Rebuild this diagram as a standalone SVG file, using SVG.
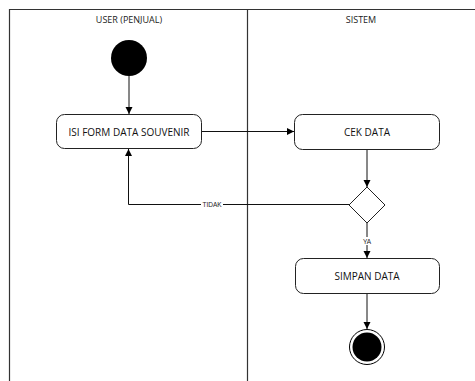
<svg xmlns="http://www.w3.org/2000/svg" width="475" height="381" viewBox="0 0 475 381">
<style>
.lane{stroke:#333;stroke-width:1.2;fill:none}
.hdr{font-family:"Open Sans","Liberation Sans",sans-serif;font-size:9px;fill:#222;text-anchor:middle}
.box{fill:#fff;stroke:#222;stroke-width:1}
.lbl{font-family:"Open Sans","Liberation Sans",sans-serif;font-size:10px;fill:#111;text-anchor:middle;dominant-baseline:central}
.edge{stroke:#111;stroke-width:1;fill:none}
.elbl{font-family:"Liberation Sans",sans-serif;font-size:6.5px;fill:#222;text-anchor:middle;dominant-baseline:central}
</style>
<defs>
<marker id="arr" markerWidth="8" markerHeight="8" refX="7" refY="4" orient="auto" markerUnits="userSpaceOnUse">
<path d="M0,0.5 L7,4 L0,7.5 z" fill="#000"/>
</marker>
</defs>
<rect width="475" height="381" fill="#fff"/>
<g id="lanes">
<path class="lane" d="M9.5,381 V9.5 H475"/>
<path class="lane" d="M247.5,9.5 V381"/>
<text class="hdr" x="129" y="23">USER (PENJUAL)</text>
<text class="hdr" x="361" y="23">SISTEM</text>
</g>
<g id="connectors">
<line class="edge" x1="129" y1="76" x2="129" y2="114" marker-end="url(#arr)"/>
<line class="edge" x1="202" y1="131.5" x2="294" y2="131.5" marker-end="url(#arr)"/>
<line class="edge" x1="367" y1="150" x2="367" y2="187" marker-end="url(#arr)"/>
<path class="edge" d="M349,204.5 H128.5 V149" marker-end="url(#arr)"/>
<rect x="201" y="200" width="22" height="9" fill="#fff"/>
<text class="elbl" x="212" y="204.5">TIDAK</text>
<line class="edge" x1="367" y1="223" x2="367" y2="258" marker-end="url(#arr)"/>
<rect x="361" y="237" width="12" height="8" fill="#fff"/>
<text class="elbl" x="367" y="241">YA</text>
<line class="edge" x1="367" y1="294" x2="367" y2="329" marker-end="url(#arr)"/>
</g>
<g id="start">
<circle cx="129" cy="58" r="18" fill="#000"/>
</g>
<g id="isi-form">
<rect class="box" x="56.5" y="114.5" width="145" height="34" rx="8"/>
<text class="lbl" x="129" y="131.5">ISI FORM DATA SOUVENIR</text>
</g>
<g id="cek-data">
<rect class="box" x="294.5" y="114.5" width="145" height="35" rx="8"/>
<text class="lbl" x="367" y="132">CEK DATA</text>
</g>
<g id="decision">
<polygon class="box" points="367,187 385,205 367,223 349,205"/>
</g>
<g id="simpan-data">
<rect class="box" x="295.5" y="258.5" width="144" height="35" rx="8"/>
<text class="lbl" x="367" y="276">SIMPAN DATA</text>
</g>
<g id="end">
<circle cx="367" cy="347" r="17.5" fill="#fff" stroke="#000" stroke-width="1"/>
<circle cx="367" cy="347" r="14.5" fill="#000"/>
</g>
</svg>
